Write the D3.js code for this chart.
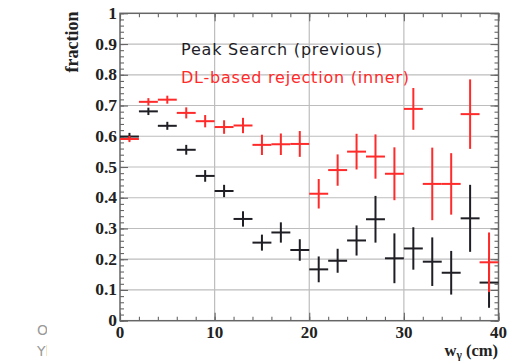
<!DOCTYPE html>
<html>
<head>
<meta charset="utf-8">
<script src="https://cdn.jsdelivr.net/npm/d3@7"></script>
<style>
  html, body { margin: 0; padding: 0; background: #fff; }
  svg { display: block; }
</style>
</head>
<body>
<svg id="chart" width="507" height="361"></svg>
<script>
// ---- data ----
const binCenters = [1,3,5,7,9,11,13,15,17,19,21,23,25,27,29,31,33,35,37,39];
const binHalfWidth = 1;
const peakSearchValues = [0.599,0.681,0.634,0.556,0.471,0.422,0.331,0.254,0.287,0.230,0.167,0.195,0.261,0.330,0.203,0.235,0.192,0.156,0.333,0.124];
const peakSearchErrors = [0.012,0.012,0.013,0.016,0.019,0.020,0.025,0.026,0.033,0.035,0.042,0.039,0.049,0.076,0.081,0.069,0.079,0.071,0.109,0.082];
const dlValues = [0.591,0.712,0.719,0.676,0.649,0.630,0.635,0.572,0.574,0.575,0.413,0.490,0.550,0.534,0.478,0.689,0.445,0.445,0.672,0.190];
const dlErrors = [0.010,0.012,0.013,0.018,0.020,0.022,0.025,0.033,0.035,0.042,0.048,0.051,0.058,0.072,0.086,0.068,0.118,0.100,0.113,0.097];
const xTickValues = [0,10,20,30,40];
const yTickValues = [0,0.1,0.2,0.3,0.4,0.5,0.6,0.7,0.8,0.9,1];
const yTickLabels = ["0","0.1","0.2","0.3","0.4","0.5","0.6","0.7","0.8","0.9","1"];
const legendLabels = ["Peak Search (previous)", "DL-based rejection (inner)"];
const yAxisTitle = "fraction";

(function () {
// ---- layout ----
const svg = d3.select("#chart");
const pL = 120, pR = 498.5, pT = 13.3, pB = 320.7;
const x = d3.scaleLinear().domain([0,40]).range([pL, pR]);
const y = d3.scaleLinear().domain([0,1]).range([pB, pT]);

const serif = "'Liberation Serif','Times New Roman',serif";
const sans = "'DejaVu Sans','Liberation Sans',sans-serif";

// grid
const grid = svg.append("g").attr("stroke", "#bdbdbd").attr("stroke-width", 1.2);
[10,20,30].forEach(v => grid.append("line")
  .attr("x1", x(v)).attr("x2", x(v)).attr("y1", pT).attr("y2", pB));
yTickValues.filter(v => v > 0 && v < 1).forEach(v => grid.append("line")
  .attr("x1", pL).attr("x2", pR).attr("y1", y(v)).attr("y2", y(v)));

// ticks inside frame (ROOT style) using d3 axes
function styleAxis(g) {
  g.select(".domain").remove();
  g.selectAll("line").attr("stroke", "#666").attr("stroke-width", 1.1);
  g.selectAll("text").remove();
}
const xMinor = d3.range(0, 41, 2);
const yMinor = d3.range(0, 1.0001, 0.02);
svg.append("g").attr("transform", `translate(0,${pB})`)
  .call(d3.axisTop(x).tickValues(xMinor).tickSize(4)).call(styleAxis);
svg.append("g").attr("transform", `translate(0,${pB})`)
  .call(d3.axisTop(x).tickValues(xTickValues).tickSize(8)).call(styleAxis);
svg.append("g").attr("transform", `translate(0,${pT})`)
  .call(d3.axisBottom(x).tickValues(xMinor).tickSize(4)).call(styleAxis);
svg.append("g").attr("transform", `translate(0,${pT})`)
  .call(d3.axisBottom(x).tickValues(xTickValues).tickSize(8)).call(styleAxis);
svg.append("g").attr("transform", `translate(${pL},0)`)
  .call(d3.axisRight(y).tickValues(yMinor).tickSize(4)).call(styleAxis);
svg.append("g").attr("transform", `translate(${pL},0)`)
  .call(d3.axisRight(y).tickValues(yTickValues).tickSize(8)).call(styleAxis);
svg.append("g").attr("transform", `translate(${pR},0)`)
  .call(d3.axisLeft(y).tickValues(yMinor).tickSize(4)).call(styleAxis);
svg.append("g").attr("transform", `translate(${pR},0)`)
  .call(d3.axisLeft(y).tickValues(yTickValues).tickSize(8)).call(styleAxis);

// frame
svg.append("rect").attr("x", pL).attr("y", pT)
  .attr("width", pR - pL).attr("height", pB - pT)
  .attr("fill", "none").attr("stroke", "#666").attr("stroke-width", 1.5);

// tick labels
svg.append("g").selectAll("text").data(yTickValues).join("text")
  .attr("x", 117).attr("y", d => y(d) + 5.5)
  .attr("text-anchor", "end")
  .attr("font-family", serif).attr("font-weight", "bold").attr("font-size", 17.5)
  .attr("fill", "#222")
  .text((d,i) => yTickLabels[i]);
svg.append("g").selectAll("text").data(xTickValues).join("text")
  .attr("x", d => x(d)).attr("y", 338)
  .attr("text-anchor", "middle")
  .attr("font-family", serif).attr("font-weight", "bold").attr("font-size", 17)
  .attr("fill", "#222")
  .text(d => d);

// axis titles
svg.append("text")
  .attr("transform", "translate(78,42) rotate(-90)")
  .attr("text-anchor", "middle")
  .attr("font-family", serif).attr("font-weight", "bold").attr("font-size", 18)
  .attr("fill", "#222")
  .text(yAxisTitle);
const xt = svg.append("text")
  .attr("x", 498).attr("y", 356).attr("text-anchor", "end")
  .attr("font-family", serif).attr("font-weight", "bold").attr("font-size", 16.5)
  .attr("fill", "#222");
xt.append("tspan").text("w");
xt.append("tspan").attr("dy", 3).attr("font-size", 11.5).text("γ");
xt.append("tspan").attr("dy", -3).text(" (cm)");

// error-bar crosses
function drawSeries(vals, errs, color) {
  const g = svg.append("g").attr("stroke", color).attr("stroke-width", 2);
  g.selectAll("line.h").data(binCenters).join("line").attr("class", "h")
    .attr("x1", d => x(d - binHalfWidth)).attr("x2", d => x(d + binHalfWidth))
    .attr("y1", (d,i) => y(vals[i])).attr("y2", (d,i) => y(vals[i]));
  g.selectAll("line.v").data(binCenters).join("line").attr("class", "v")
    .attr("x1", d => x(d)).attr("x2", d => x(d))
    .attr("y1", (d,i) => y(vals[i] - errs[i])).attr("y2", (d,i) => y(vals[i] + errs[i]));
}
drawSeries(peakSearchValues, peakSearchErrors, "#1e1e24");
drawSeries(dlValues, dlErrors, "#ff2a2a");

// legend text
svg.append("text").attr("x", 181).attr("y", 55)
  .attr("font-family", sans).attr("font-size", 16).attr("fill", "#1e1e28")
  .attr("textLength", 201).attr("lengthAdjust", "spacing")
  .text(legendLabels[0]);
svg.append("text").attr("x", 181).attr("y", 83)
  .attr("font-family", sans).attr("font-size", 16).attr("fill", "#ff2a2a")
  .attr("textLength", 228).attr("lengthAdjust", "spacing")
  .text(legendLabels[1]);

// clipped slide fragments at bottom-left
svg.append("clipPath").attr("id", "frag").append("rect")
  .attr("x", 30).attr("y", 315).attr("width", 17).attr("height", 46);
const frag = svg.append("g").attr("clip-path", "url(#frag)")
  .attr("font-family", sans).attr("font-size", 14).attr("fill", "#9a9a9a");
frag.append("text").attr("x", 37).attr("y", 335).text("Or");
frag.append("text").attr("x", 37).attr("y", 356).text("Yl");
})();
</script>
</body>
</html>
